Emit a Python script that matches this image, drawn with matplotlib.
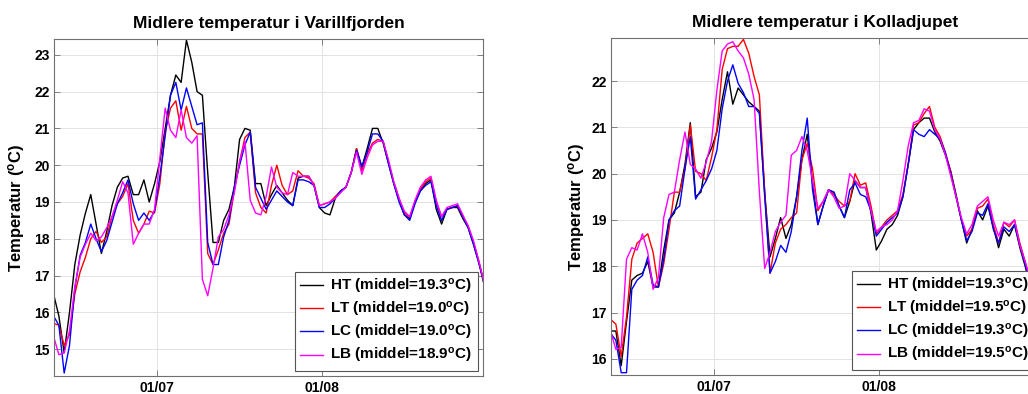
import numpy as np
import pandas as pd
import matplotlib
matplotlib.use("Agg")
import matplotlib.pyplot as plt
import matplotlib.dates as mdates

# ---------------- data ----------------
start_time = "2013-06-11 12:00"
n_days = 82
x_limits = ("2013-06-11 14:00", "2013-08-31 07:00")

titles = ["Midlere temperatur i Varillfjorden", "Midlere temperatur i Kolladjupet"]
ylabel = "Temperatur ($^{\\mathbf{o}}$C)"
series_names = ["HT", "LT", "LC", "LB"]
series_colors = ["black", "red", "blue", "magenta"]
means_left = [19.3, 19.0, 19.0, 18.9]
means_right = [19.3, 19.5, 19.3, 19.5]
ylim_left = (14.27, 23.43)
ylim_right = (15.65, 22.93)
yticks_left = [15, 16, 17, 18, 19, 20, 21, 22, 23]
yticks_right = [16, 17, 18, 19, 20, 21, 22]

# Varillfjorden
ht_left = [16.5, 15.9, 14.9, 16.0, 17.3, 18.1, 18.7, 19.2, 18.4, 17.6,
           18.2, 18.9, 19.4, 19.65, 19.7, 19.2, 19.2, 19.6, 19.0, 19.5,
           20.1, 21.0, 21.9, 22.45, 22.25, 23.4, 22.8, 22.0, 21.9, 19.8,
           17.9, 17.9, 18.5, 18.8, 19.4, 20.7, 21.0, 20.95, 19.5, 19.5,
           18.9, 19.2, 19.45, 19.25, 19.05, 18.9, 19.65, 19.7, 19.7, 19.45,
           18.85, 18.7, 18.65, 19.1, 19.3, 19.4, 19.8, 20.45, 19.95, 20.45,
           21.0, 21.0, 20.6, 20.05, 19.5, 19.05, 18.65, 18.55, 19.0, 19.3,
           19.5, 19.6, 18.8, 18.4, 18.8, 18.85, 18.85, 18.55, 18.3, 17.85,
           17.35, 16.75]
lt_left = [15.7, 15.65, 15.1, 15.4, 16.5, 17.1, 17.5, 18.0, 18.2, 17.9,
           18.05, 18.6, 18.95, 19.15, 19.5, 18.5, 18.15, 18.4, 18.75, 18.7,
           19.5, 20.9, 21.55, 21.75, 20.95, 21.6, 21.0, 20.85, 20.85, 17.6,
           17.3, 17.7, 18.15, 18.4, 19.3, 20.1, 20.75, 20.9, 19.25, 18.85,
           18.7, 19.45, 20.0, 19.45, 19.2, 19.3, 19.85, 19.7, 19.65, 19.5,
           18.9, 18.95, 19.0, 19.15, 19.3, 19.4, 19.8, 20.45, 19.85, 20.3,
           20.6, 20.7, 20.65, 20.1, 19.55, 19.1, 18.7, 18.6, 19.0, 19.35,
           19.55, 19.65, 19.0, 18.6, 18.8, 18.85, 18.9, 18.6, 18.35, 17.9,
           17.4, 16.8]
lc_left = [15.9, 15.65, 14.35, 15.1, 16.65, 17.55, 17.9, 18.4, 18.0, 17.65,
           17.95, 18.45, 18.95, 19.25, 19.6, 18.95, 18.5, 18.7, 18.5, 18.75,
           19.7, 20.8, 21.9, 22.25, 21.5, 22.1, 21.6, 21.1, 21.15, 17.9,
           17.3, 17.3, 18.05, 18.5, 19.4, 20.0, 20.55, 20.9, 19.4, 19.1,
           18.8, 19.05, 19.3, 19.15, 19.0, 18.9, 19.6, 19.6, 19.55, 19.45,
           18.85, 18.85, 18.95, 19.1, 19.3, 19.4, 19.8, 20.4, 19.95, 20.35,
           20.85, 20.85, 20.65, 20.05, 19.5, 19.0, 18.65, 18.5, 18.95, 19.3,
           19.45, 19.55, 18.9, 18.5, 18.8, 18.85, 18.9, 18.6, 18.3, 17.85,
           17.35, 16.8]
lb_left = [15.35, 14.85, 14.9, 15.5, 16.7, 17.5, 17.85, 18.15, 17.95, 18.05,
           18.3, 18.6, 19.05, 19.55, 19.25, 17.85, 18.15, 18.4, 18.4, 18.8,
           20.2, 21.55, 20.95, 20.75, 21.5, 20.75, 20.6, 20.8, 16.9, 16.45,
           17.2, 18.05, 18.25, 18.65, 19.25, 20.1, 20.65, 19.05, 18.7, 18.65,
           19.15, 19.95, 19.4, 19.25, 19.2, 19.8, 19.7, 19.7, 19.7, 19.45,
           18.9, 18.95, 19.0, 19.1, 19.25, 19.4, 19.8, 20.35, 19.75, 20.2,
           20.55, 20.65, 20.65, 20.15, 19.55, 19.1, 18.75, 18.6, 19.05, 19.4,
           19.6, 19.7, 19.05, 18.6, 18.85, 18.9, 18.95, 18.65, 18.35, 17.95,
           17.4, 16.8]

# Kolladjupet
ht_right = [16.6, 16.6, 15.85, 16.8, 17.7, 17.8, 17.85, 18.1, 17.55, 17.55,
            18.35, 19.0, 19.15, 19.6, 20.2, 21.1, 19.5, 19.6, 20.3, 20.55,
            20.9, 21.6, 22.2, 21.5, 21.85, 21.7, 21.55, 21.45, 21.35, 19.6,
            18.2, 18.6, 19.05, 18.6, 18.9, 19.5, 20.3, 20.85, 19.8, 18.9,
            19.3, 19.65, 19.6, 19.3, 19.05, 19.4, 19.85, 19.7, 19.7, 19.15,
            18.35, 18.55, 18.8, 18.9, 19.1, 19.5, 20.2, 20.95, 21.1, 21.2,
            21.2, 20.9, 20.7, 20.4, 20.05, 19.55, 19.0, 18.5, 18.8, 19.2,
            19.0, 19.3, 18.85, 18.4, 18.8, 18.65, 18.9, 18.4, 18.0, 17.55,
            17.1, 16.7]
lt_right = [16.85, 16.75, 16.05, 16.9, 18.15, 18.5, 18.6, 18.7, 18.3, 17.55,
            18.05, 18.8, 19.6, 19.6, 20.1, 21.05, 20.05, 20.0, 19.85, 20.35,
            20.95, 22.25, 22.7, 22.75, 22.75, 22.9, 22.6, 22.1, 21.7, 19.6,
            17.85, 18.5, 18.8, 18.9, 19.05, 19.15, 20.3, 20.65, 20.1, 19.2,
            19.4, 19.65, 19.55, 19.4, 19.3, 19.4, 20.0, 19.75, 19.8, 19.3,
            18.7, 18.85, 19.0, 19.1, 19.2, 19.55, 20.2, 21.05, 21.1, 21.3,
            21.45, 21.0, 20.8, 20.45, 20.05, 19.5, 19.0, 18.65, 18.8, 19.25,
            19.3, 19.45, 18.9, 18.5, 18.95, 18.85, 19.0, 18.5, 18.1, 17.65,
            17.2, 16.8]
lc_right = [16.55, 16.4, 15.7, 15.7, 17.5, 17.7, 17.8, 18.2, 17.6, 17.55,
            18.15, 19.0, 19.2, 19.3, 20.1, 20.8, 19.45, 19.65, 19.85, 20.1,
            20.5, 21.4, 22.0, 22.35, 21.95, 21.75, 21.45, 21.45, 21.3, 19.5,
            17.85, 18.1, 18.45, 18.3, 18.75, 19.5, 20.5, 21.2, 19.65, 18.9,
            19.3, 19.65, 19.6, 19.3, 19.05, 19.65, 19.8, 19.55, 19.5, 19.2,
            18.65, 18.8, 18.95, 19.05, 19.15, 19.5, 20.2, 20.95, 20.85, 20.8,
            20.95, 20.85, 20.75, 20.45, 20.0, 19.5, 19.0, 18.55, 18.75, 19.15,
            19.1, 19.35, 18.8, 18.5, 18.85, 18.75, 18.9, 18.45, 18.05, 17.6,
            17.15, 16.75]
lb_right = [16.6, 16.2, 16.25, 18.15, 18.4, 18.35, 18.7, 18.3, 17.5, 17.75,
            19.05, 19.55, 19.6, 20.3, 20.9, 20.2, 20.1, 19.9, 20.25, 20.7,
            21.8, 22.65, 22.8, 22.85, 22.65, 22.5, 22.15, 21.6, 19.6, 17.95,
            18.3, 18.75, 18.95, 19.1, 20.4, 20.5, 20.8, 20.5, 19.85, 19.25,
            19.4, 19.65, 19.5, 19.25, 19.3, 20.0, 19.85, 19.7, 19.7, 19.2,
            18.75, 18.85, 18.9, 19.0, 19.2, 19.85, 20.6, 21.1, 21.15, 21.4,
            21.35, 20.95, 20.75, 20.4, 19.95, 19.5, 19.05, 18.7, 18.9, 19.3,
            19.4, 19.5, 19.0, 18.65, 18.95, 18.9, 19.0, 18.45, 18.1, 17.7,
            17.25, 16.8]

# ---------------- style ----------------
plt.rcParams["font.family"] = ["Liberation Sans", "DejaVu Sans"]
plt.rcParams["font.weight"] = "bold"
plt.rcParams["mathtext.fontset"] = "custom"
plt.rcParams["mathtext.rm"] = "Liberation Sans:bold"
plt.rcParams["mathtext.bf"] = "Liberation Sans:bold"
plt.rcParams["mathtext.it"] = "Liberation Sans:bold"

times = pd.date_range(start_time, periods=n_days, freq="D")

fig = plt.figure(figsize=(10.28, 3.94), dpi=100)
W, H = 1028.0, 394.0
ax1 = fig.add_axes([54 / W, 1 - 376 / H, 429 / W, 337 / H])
ax2 = fig.add_axes([611 / W, 1 - 375 / H, 429 / W, 337 / H])

panels = [
    (ax1, [ht_left, lt_left, lc_left, lb_left], means_left, ylim_left, yticks_left, titles[0]),
    (ax2, [ht_right, lt_right, lc_right, lb_right], means_right, ylim_right, yticks_right, titles[1]),
]

frame_col = "#707070"
for ax, data, means, ylim, yticks, title in panels:
    for vals, name, col, m in zip(data, series_names, series_colors, means):
        ax.plot(times, vals, color=col, lw=1.0,
                label=f"{name} (middel={m:.1f}$^{{\\mathbf{{o}}}}$C)")
    ax.set_xlim(pd.Timestamp(x_limits[0]), pd.Timestamp(x_limits[1]))
    ax.set_ylim(*ylim)
    ax.set_yticks(yticks)
    ax.xaxis.set_major_locator(mdates.MonthLocator(bymonthday=1))
    ax.xaxis.set_major_formatter(mdates.DateFormatter("%d/%m"))
    ax.grid(True, color="#e3e3e3", lw=0.7)
    ax.set_axisbelow(True)
    for s in ax.spines.values():
        s.set_color(frame_col)
        s.set_linewidth(0.8)
    ax.tick_params(direction="in", length=4, width=0.6, color=frame_col,
                   top=True, right=True, labelsize=10, pad=3)
    ax.tick_params(axis="x", pad=3.5)
    for lab in ax.get_xticklabels() + ax.get_yticklabels():
        lab.set_fontweight("bold")
    ax.set_title(title, fontsize=12.5, fontweight="bold", pad=8)
    ax.set_ylabel(ylabel, fontsize=12, fontweight="bold")
    leg = ax.legend(loc="lower right", fontsize=11, frameon=True, fancybox=False,
                    edgecolor="#555555", framealpha=1.0, handlelength=1.5,
                    handletextpad=0.5, labelspacing=0.27, borderaxespad=0.35,
                    borderpad=0.35)
    leg.get_frame().set_linewidth(0.8)

ax1.yaxis.set_label_coords(-0.063, 0.5)
ax2.yaxis.set_label_coords(-0.055, 0.5)

fig.savefig("out.png", dpi=100)
